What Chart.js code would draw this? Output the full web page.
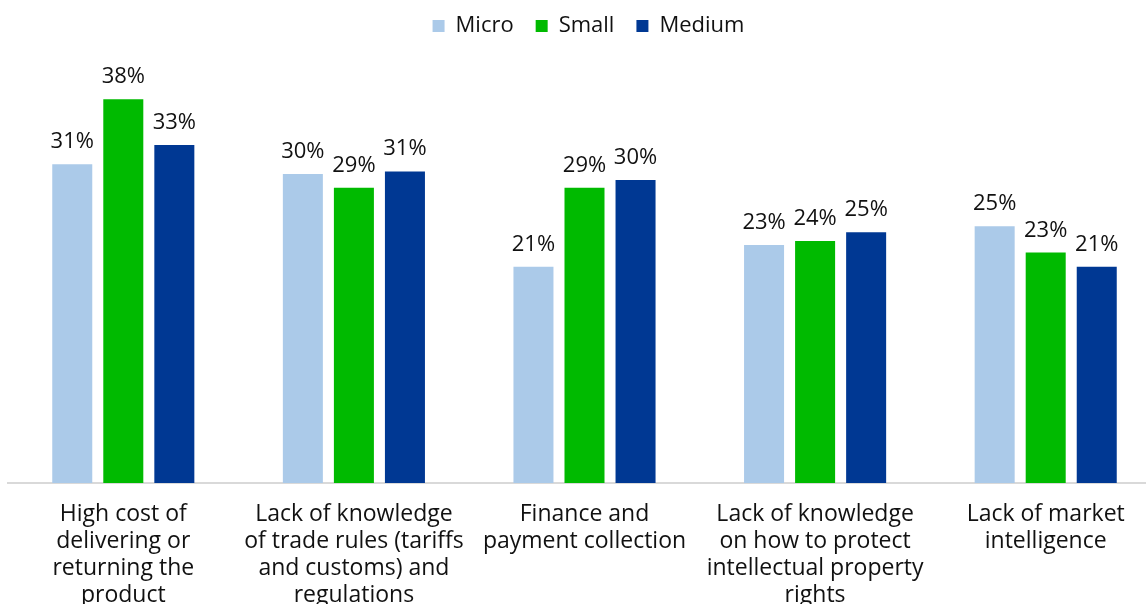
<!DOCTYPE html>
<html>
<head>
<meta charset="utf-8">
<script src="https://cdn.jsdelivr.net/npm/chart.js@4/dist/chart.umd.min.js"></script>
<style>
  html, body { margin: 0; padding: 0; background: #fff; overflow: hidden; }
  #wrap { width: 1146px; height: 604px; overflow: hidden; position: relative; }
  canvas { display: block; }
</style>
</head>
<body>
<div id="wrap"><canvas id="c" width="1161" height="640"></canvas></div>
<script>
const categories = [
  ["High cost of", "delivering or", "returning the", "product"],
  ["Lack of knowledge", "of trade rules (tariffs", "and customs) and", "regulations"],
  ["Finance and", "payment collection"],
  ["Lack of knowledge", "on how to protect", "intellectual property", "rights"],
  ["Lack of market", "intelligence"]
];
const seriesNames = ["Micro", "Small", "Medium"];
const microValues = [31.4, 30.45, 21.3, 23.45, 25.3];
const smallValues = [37.8, 29.1, 29.1, 23.85, 22.7];
const mediumValues = [33.3, 30.7, 29.85, 24.7, 21.3];
const colors = ["#ABCAE9", "#00BA00", "#003893"];

const FONT = "'Open Sans', 'Liberation Sans', sans-serif";
Chart.defaults.font.family = FONT;
Chart.defaults.color = "#111";

const dataLabels = {
  id: "dataLabels",
  afterDatasetsDraw(chart) {
    const ctx = chart.ctx;
    ctx.save();
    ctx.font = "22px " + FONT;
    ctx.fillStyle = "#111";
    ctx.textAlign = "center";
    ctx.textBaseline = "alphabetic";
    chart.data.datasets.forEach((ds, i) => {
      const meta = chart.getDatasetMeta(i);
      meta.data.forEach((el, j) => {
        ctx.fillText(Math.round(ds.data[j]) + "%", el.x, el.y - 16);
      });
    });
    ctx.restore();
  }
};

const legendTweak = {
  id: "legendTweak",
  beforeLayout(chart) {
    const lg = chart.legend;
    if (lg && !lg._patched) {
      const f = lg.fit;
      lg.fit = function () { f.call(this); this.height = 77; };
      lg._patched = true;
    }
  },
  afterLayout(chart) {
    const lg = chart.legend;
    if (lg) { lg.top -= 7; lg.bottom -= 7; lg.left += 4; lg.right += 4; }
  }
};

new Chart(document.getElementById("c"), {
  type: "bar",
  data: {
    labels: categories,
    datasets: [
      { label: seriesNames[0], data: microValues, backgroundColor: colors[0] },
      { label: seriesNames[1], data: smallValues, backgroundColor: colors[1] },
      { label: seriesNames[2], data: mediumValues, backgroundColor: colors[2] }
    ]
  },
  options: {
    responsive: false,
    animation: false,
    devicePixelRatio: 1,
    layout: { padding: { left: 8, right: 0, top: 0, bottom: 0 } },
    datasets: { bar: { categoryPercentage: 0.664, barPercentage: 0.784 } },
    plugins: {
      legend: {
        position: "top",
        labels: {
          boxWidth: 12, boxHeight: 12, padding: 22,
          font: { size: 22, family: FONT }, color: "#111"
        }
      },
      tooltip: { enabled: false }
    },
    scales: {
      x: {
        grid: { display: false, drawTicks: false },
        border: { display: true, color: "#D9D9D9", width: 2 },
        ticks: {
          padding: 18, maxRotation: 0, autoSkip: false,
          font: { size: 23, family: FONT, lineHeight: "27px" }, color: "#111"
        },
        afterFit(scale) { scale.height = 640 - 483; }
      },
      y: { display: false, min: 0, max: 40 }
    }
  },
  plugins: [dataLabels, legendTweak]
});
</script>
</body>
</html>
